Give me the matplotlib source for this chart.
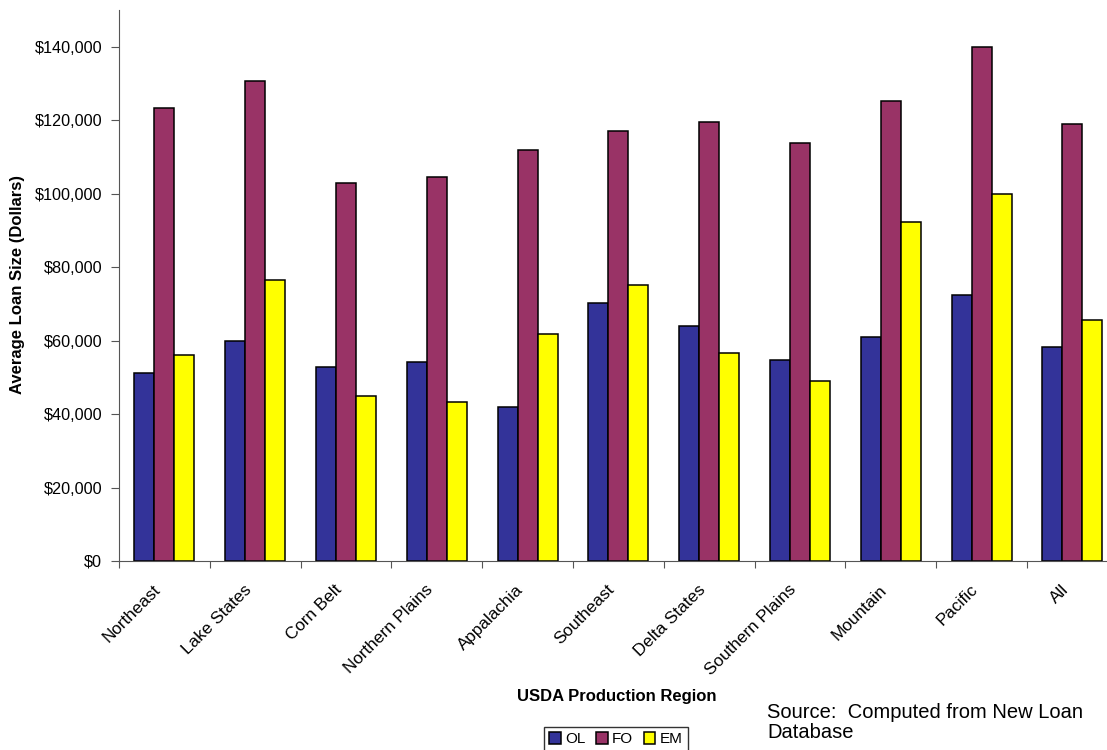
import numpy as np
import matplotlib
matplotlib.use("Agg")
from matplotlib import pyplot as plt
from matplotlib.ticker import FuncFormatter

plt.rcParams['font.family'] = ['Liberation Sans', 'DejaVu Sans']

regions = ["Northeast", "Lake States", "Corn Belt", "Northern Plains", "Appalachia",
           "Southeast", "Delta States", "Southern Plains", "Mountain", "Pacific", "All"]
ol = [51300, 60000, 52700, 54200, 41900, 70200, 64100, 54600, 61100, 72400, 58300]
fo = [123300, 130600, 102800, 104600, 111900, 117100, 119600, 113700, 125100, 139900, 119000]
em = [56000, 76400, 44800, 43300, 61800, 75200, 56600, 49000, 92300, 100000, 65500]

series = [("OL", ol, "#333399"), ("FO", fo, "#993366"), ("EM", em, "#FFFF00")]

fig = plt.figure(figsize=(11.07, 7.5), dpi=100)
# axes runs off the right edge like the original
ax = fig.add_axes([119/1107, 1-561/750, 11*90.8/1107, 551/750])

x = np.arange(len(regions))
w = 0.22
for i, (name, vals, col) in enumerate(series):
    ax.bar(x + (i-1)*w, vals, w, color=col, edgecolor="black", linewidth=1.1, label=name)

ax.set_xlim(-0.5, len(regions)-0.5)
ax.set_ylim(0, 150000)
ax.set_yticks(np.arange(0, 140001, 20000))
ax.yaxis.set_major_formatter(FuncFormatter(lambda v, p: f"${v:,.0f}"))
ax.set_xticks(np.arange(-0.5, len(regions)-0.5, 1))
ax.set_xticklabels([])
# category labels on invisible minor ticks, nudged a little left
ax.set_xticks(x - 0.07, minor=True)
ax.set_xticklabels(regions, minor=True, rotation=45, ha="right", va="center",
                   rotation_mode="anchor", fontsize=12.3)
ax.tick_params(axis="x", which="minor", length=0, pad=19)
ax.tick_params(axis="x", which="major", length=5, color="#555555")
ax.tick_params(axis="y", length=6, color="#555555", labelsize=11.7, pad=6)

for s in ["top", "right"]:
    ax.spines[s].set_visible(False)
for s in ["left", "bottom"]:
    ax.spines[s].set_color("#555555")

fig.text(18/1107, 1-284/750, "Average Loan Size (Dollars)", fontsize=12, fontweight="bold",
         rotation=90, ha="center", va="center")
fig.text(617/1107, 1-696/750, "USDA Production Region", fontsize=12, fontweight="bold",
         ha="center", va="center")
fig.text(767/1107, 1-738/750, "Source:  Computed from New Loan\nDatabase", fontsize=14.5,
         ha="left", va="baseline", linespacing=1.1)

leg = fig.legend(loc="upper center", bbox_to_anchor=(616/1107, 1-727/750), ncol=3,
                 frameon=True, fancybox=False, edgecolor="black", fontsize=11,
                 handlelength=0.75, handleheight=0.75, handletextpad=0.3, columnspacing=0.7,
                 borderpad=0.35, borderaxespad=0)
leg.get_frame().set_linewidth(1)

fig.savefig("out.png", dpi=100)
